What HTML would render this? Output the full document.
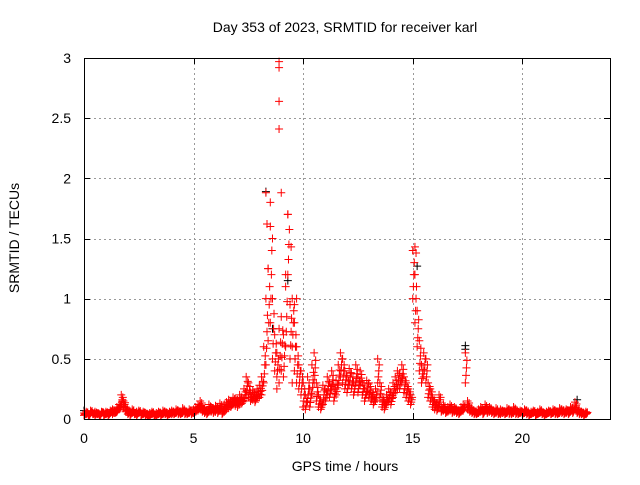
<!DOCTYPE html>
<html><head><meta charset="utf-8"><style>
body{margin:0;background:#fff;width:640px;height:480px;overflow:hidden}
svg text{font-family:"Liberation Sans",sans-serif;font-size:14px;fill:#000}
</style></head><body>
<svg id="chart" width="640" height="480" xmlns="http://www.w3.org/2000/svg">
<rect x="0" y="0" width="640" height="480" fill="#fff"/>
<g id="grid"></g>
<g id="pts"></g>
<rect x="84.5" y="58.5" width="526" height="361" fill="none" stroke="#000" stroke-width="1"/>
<g id="ticks"></g>
<text x="345" y="32" text-anchor="middle">Day 353 of 2023, SRMTID for receiver karl</text>
<text x="345" y="471" text-anchor="middle">GPS time / hours</text>
<text x="0" y="0" text-anchor="middle" transform="translate(19,238) rotate(-90)">SRMTID / TECUs</text>
</svg>
<script>
const xTicks=[0,5,10,15,20];
const yTicks=[0,0.5,1,1.5,2,2.5,3];
const yTickLabels=["0","0.5","1","1.5","2","2.5","3"];
const startHour=0, stepHours=0.1;
const highVals=[
0.05,0.06,0.04,0.07,0.05,0.06,0.05,0.04,0.06,0.05,
0.06,0.05,0.07,0.08,0.06,0.10,0.12,0.20,0.15,0.10,
0.07,0.06,0.08,0.05,0.06,0.07,0.05,0.06,0.05,0.04,
0.05,0.06,0.04,0.05,0.06,0.05,0.07,0.06,0.05,0.06,
0.07,0.06,0.08,0.07,0.06,0.09,0.07,0.06,0.08,0.07,
0.08,0.10,0.12,0.15,0.10,0.08,0.07,0.12,0.10,0.09,
0.11,0.10,0.13,0.08,0.12,0.14,0.16,0.15,0.18,0.17,
0.16,0.20,0.18,0.25,0.35,0.30,0.22,0.24,0.20,0.25,
0.28,0.35,0.60,1.00,1.25,1.60,1.00,0.70,0.55,0.75,
0.85,0.70,1.10,1.70,0.95,1.00,0.80,0.60,0.45,0.40,
0.30,0.20,0.35,0.25,0.45,0.55,0.30,0.20,0.15,0.28,
0.25,0.35,0.30,0.40,0.28,0.32,0.45,0.55,0.50,0.40,
0.35,0.42,0.38,0.30,0.45,0.35,0.40,0.30,0.25,0.32,
0.30,0.22,0.20,0.25,0.50,0.30,0.18,0.15,0.20,0.25,
0.22,0.30,0.35,0.40,0.38,0.45,0.35,0.30,0.25,0.20,
1.40,1.20,0.90,0.65,0.45,0.55,0.50,0.30,0.25,0.18,
0.15,0.12,0.20,0.10,0.12,0.08,0.10,0.12,0.09,0.10,
0.08,0.07,0.10,0.12,0.55,0.15,0.10,0.08,0.07,0.06,
0.08,0.10,0.07,0.12,0.09,0.10,0.08,0.07,0.09,0.06,
0.08,0.07,0.06,0.09,0.08,0.07,0.10,0.08,0.06,0.07,
0.06,0.08,0.07,0.05,0.06,0.07,0.05,0.06,0.08,0.06,
0.05,0.06,0.07,0.06,0.08,0.07,0.06,0.09,0.08,0.07,
0.08,0.07,0.10,0.09,0.14,0.08,0.07,0.06,0.05,0.06];
const lowVals=[
0.03,0.04,0.03,0.05,0.04,0.03,0.04,0.03,0.05,0.03,
0.04,0.03,0.05,0.04,0.05,0.06,0.08,0.12,0.09,0.06,
0.04,0.03,0.05,0.04,0.03,0.05,0.03,0.04,0.03,0.03,
0.03,0.04,0.03,0.03,0.04,0.03,0.04,0.04,0.03,0.04,
0.04,0.04,0.05,0.04,0.04,0.05,0.04,0.04,0.05,0.04,
0.05,0.06,0.07,0.08,0.06,0.05,0.04,0.06,0.06,0.05,
0.06,0.05,0.07,0.04,0.06,0.08,0.09,0.10,0.12,0.11,
0.10,0.12,0.13,0.15,0.20,0.18,0.15,0.16,0.14,0.17,
0.18,0.20,0.30,0.45,0.65,0.80,0.50,0.40,0.35,0.30,
0.40,0.35,0.60,1.20,0.50,0.60,0.40,0.30,0.25,0.20,
0.10,0.08,0.15,0.10,0.20,0.30,0.15,0.10,0.08,0.12,
0.15,0.20,0.18,0.25,0.15,0.20,0.28,0.35,0.30,0.25,
0.22,0.28,0.25,0.20,0.30,0.22,0.28,0.20,0.15,0.20,
0.18,0.15,0.12,0.15,0.30,0.18,0.10,0.08,0.12,0.15,
0.12,0.18,0.22,0.25,0.25,0.30,0.22,0.18,0.15,0.12,
1.00,0.80,0.60,0.40,0.30,0.35,0.30,0.18,0.15,0.10,
0.08,0.07,0.12,0.06,0.07,0.05,0.06,0.07,0.05,0.06,
0.05,0.04,0.06,0.07,0.30,0.08,0.06,0.05,0.04,0.04,
0.05,0.06,0.04,0.07,0.05,0.06,0.05,0.04,0.05,0.04,
0.04,0.05,0.04,0.05,0.04,0.04,0.05,0.04,0.04,0.05,
0.04,0.05,0.04,0.03,0.04,0.05,0.03,0.04,0.05,0.04,
0.03,0.04,0.05,0.04,0.05,0.04,0.04,0.05,0.05,0.04,
0.05,0.04,0.06,0.05,0.08,0.05,0.04,0.04,0.03,0.04];
const spikeTimes=[8.9,8.9,8.9,8.9,8.3,8.35,8.5,9.0,9.3,9.45,8.4,8.6,15.1,15.15,9.2,9.6,9.7,9.5,8.8];
const spikeVals=[2.97,2.92,2.64,2.41,1.88,1.62,1.80,1.88,1.70,1.43,1.25,1.50,1.43,1.38,1.20,0.95,1.00,0.30,0.25];
const blackTimes=[0,8.3,8.6,9.3,15.2,17.4,17.4,22.5];
const blackVals=[0.07,1.89,0.75,1.15,1.27,0.61,0.58,0.16];

const X0=84,X1=610,Y0=419,Y1=58,XMAX=24,YMAX=3;
const xs=v=>X0+(X1-X0)*v/XMAX;
const ys=v=>Y0-(Y0-Y1)*v/YMAX;
const NS="http://www.w3.org/2000/svg";
const grid=document.getElementById('grid'),ticks=document.getElementById('ticks'),pts=document.getElementById('pts');
function mk(tag,attrs,parent){const e=document.createElementNS(NS,tag);for(const k in attrs)e.setAttribute(k,attrs[k]);parent.appendChild(e);return e;}
xTicks.forEach(t=>{
  const x=Math.round(xs(t))+0.5;
  if(t>0){const g=mk('line',{x1:x,x2:x,y1:Y1,y2:Y0,stroke:'#999','stroke-dasharray':'2,3'},grid);
  
  }
  mk('line',{x1:x,x2:x,y1:Y0,y2:Y0-6,stroke:'#000'},ticks);
  mk('line',{x1:x,x2:x,y1:Y1,y2:Y1+6,stroke:'#000'},ticks);
  const l=mk('text',{x:xs(t),y:443,'text-anchor':'middle'},ticks);l.textContent=t;
  
  
});
yTicks.forEach((t,i)=>{
  const y=Math.round(ys(t))+0.5;
  if(t>0&&t<YMAX){const g=mk('line',{x1:X0,x2:X1,y1:y,y2:y,stroke:'#999','stroke-dasharray':'2,3'},grid);
  
  }
  mk('line',{x1:X0,x2:X0+6,y1:y,y2:y,stroke:'#000'},ticks);
  mk('line',{x1:X1,x2:X1-6,y1:y,y2:y,stroke:'#000'},ticks);
  const l=mk('text',{x:71,y:ys(t)+5,'text-anchor':'end'},ticks);l.textContent=yTickLabels[i];
  
  
});
function plus(t,v,color){
  const x=xs(t),y=ys(v);
  const p=mk('path',{d:`M${x-4} ${y}H${x+4}M${x} ${y-4}V${y+4}`,stroke:color,'stroke-width':1,fill:'none'},pts);
  
  
}
blackTimes.forEach((t,i)=>plus(t,blackVals[i],'#000'));
highVals.forEach((v,i)=>{
  const t=startHour+i*stepHours, lo=lowVals[i];
  plus(t,v,'#f00');plus(t,lo,'#f00');plus(t+0.05,(v+lo)/2,'#f00');
  plus(t+0.03,lo+(v-lo)*0.25,'#f00');plus(t+0.07,lo+(v-lo)*0.75,'#f00');
});
spikeTimes.forEach((t,i)=>plus(t,spikeVals[i],'#f00'));
</script>
</body></html>
